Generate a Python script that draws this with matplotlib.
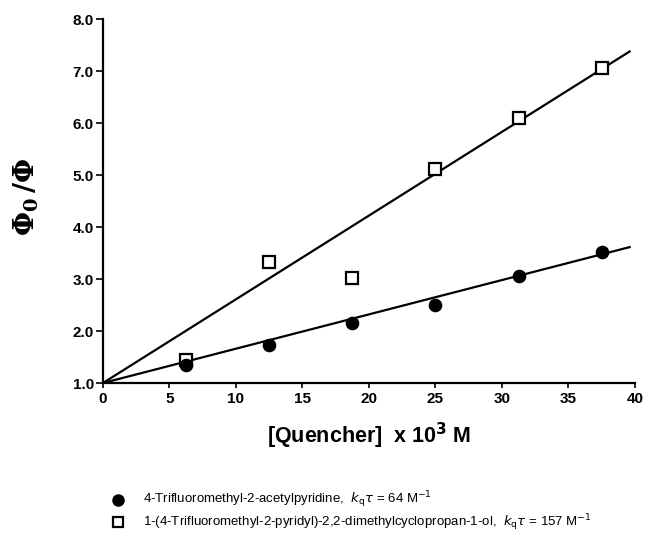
import matplotlib.pyplot as plt
from matplotlib.lines import Line2D

plt.rcParams['font.family'] = ['Liberation Sans', 'DejaVu Sans']

conc = [6.25, 12.5, 18.75, 25.0, 31.25, 37.5]
ratio_ketone = [1.35, 1.73, 2.15, 2.50, 3.06, 3.52]
ratio_alcohol = [1.44, 3.33, 3.02, 5.12, 6.10, 7.06]
# fitted Stern-Volmer slopes (per 10^-3 M), intercept 1
slope_ketone = 0.066
slope_alcohol = 0.161
fit_x = [0, 39.6]

fig = plt.figure(figsize=(6.46, 5.39), dpi=100)
ax = fig.add_axes([0.1594, 0.2894, 0.8235, 0.6753])

ax.plot(fit_x, [1 + slope_ketone * x for x in fit_x], color='black', lw=1.6)
ax.plot(fit_x, [1 + slope_alcohol * x for x in fit_x], color='black', lw=1.6)
ax.plot(conc, ratio_alcohol, 's', mfc='white', mec='black', mew=1.6, ms=8.5, ls='none')
ax.plot(conc, ratio_ketone, 'o', color='black', ms=8.8, ls='none')

ax.set_xlim(0, 40)
ax.set_ylim(1.0, 8.0)
ax.set_xticks(range(0, 41, 5))
ax.set_yticks([1, 2, 3, 4, 5, 6, 7, 8])
ax.set_yticklabels(['%.1f' % v for v in range(1, 9)])
for lab in ax.get_xticklabels() + ax.get_yticklabels():
    lab.set_fontweight('bold')
    lab.set_fontsize(11)
ax.spines['top'].set_visible(False)
ax.spines['right'].set_visible(False)
ax.spines['left'].set_linewidth(1.6)
ax.spines['bottom'].set_linewidth(1.6)
ax.tick_params(axis='y', width=1.2, length=5, pad=1.5)
ax.tick_params(axis='x', width=1.2, length=3.5, pad=3)

ax.set_xlabel(r'[Quencher]  x 10$^{\mathbf{3}}$ M', fontsize=15.5, fontweight='bold')
ax.xaxis.set_label_coords(0.5, -0.105)
ax.set_ylabel(r'$\mathbf{\Phi_0\,/\Phi}$', fontsize=20, math_fontfamily='dejavuserif')
ax.yaxis.set_label_coords(-0.117, 0.51)

leg_x = 0.183
txt_x = 0.2214
rows_y = [0.073, 0.031]
fig.add_artist(Line2D([leg_x], [rows_y[0]], marker='o', color='black', ms=8,
                      transform=fig.transFigure))
fig.add_artist(Line2D([leg_x], [rows_y[1]], marker='s', mfc='white', mec='black',
                      mew=1.6, ms=7.5, transform=fig.transFigure))
fig.text(txt_x, rows_y[0], r'4-Trifluoromethyl-2-acetylpyridine,  $k_{\rm q}\tau$ = 64 M$^{-1}$',
         fontsize=9.5, va='center')
fig.text(txt_x, rows_y[1], r'1-(4-Trifluoromethyl-2-pyridyl)-2,2-dimethylcyclopropan-1-ol,  $k_{\rm q}\tau$ = 157 M$^{-1}$',
         fontsize=9.5, va='center')

fig.savefig('out.png', dpi=100)
